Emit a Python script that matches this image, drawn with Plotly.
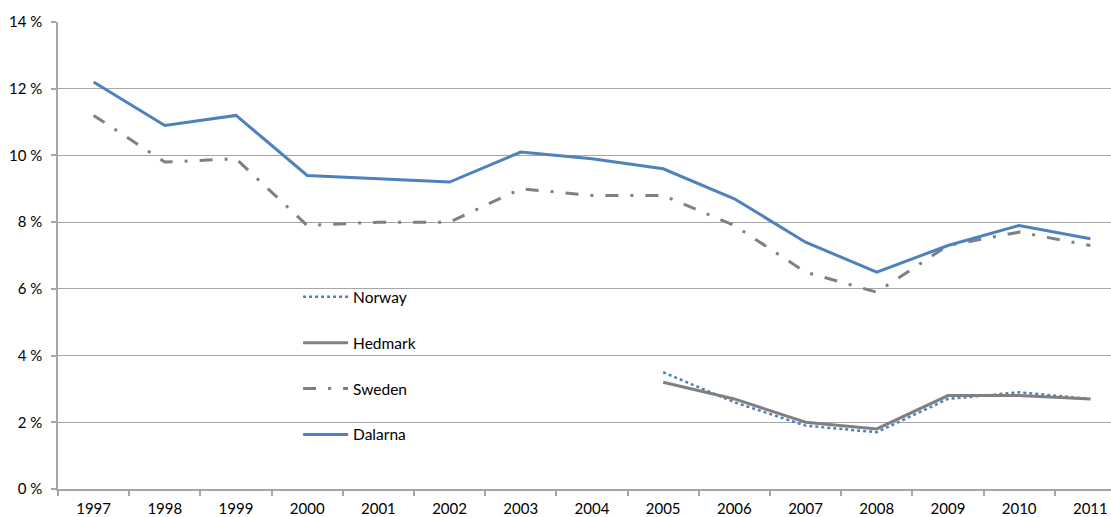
import plotly.graph_objects as go

years = ["1997", "1998", "1999", "2000", "2001", "2002", "2003", "2004",
         "2005", "2006", "2007", "2008", "2009", "2010", "2011"]
dalarna = [12.2, 10.9, 11.2, 9.4, 9.3, 9.2, 10.1, 9.9, 9.6, 8.7, 7.4, 6.5, 7.3, 7.9, 7.5]
sweden = [11.2, 9.8, 9.9, 7.9, 8.0, 8.0, 9.0, 8.8, 8.8, 7.9, 6.5, 5.9, 7.3, 7.7, 7.3]
norway_years = ["2005", "2006", "2007", "2008", "2009", "2010", "2011"]
norway = [3.5, 2.6, 1.9, 1.7, 2.7, 2.9, 2.7]
hedmark = [3.2, 2.7, 2.0, 1.8, 2.8, 2.8, 2.7]

BLUE = "#4F81BD"
GRAY = "#808080"

fig = go.Figure()
fig.add_trace(go.Scatter(x=norway_years, y=norway, name="Norway", mode="lines",
                         legendgroup="a",
                         line=dict(color=BLUE, width=2.5, dash="dot")))
fig.add_trace(go.Scatter(x=norway_years, y=hedmark, name="Hedmark", mode="lines",
                         legendgroup="b",
                         line=dict(color=GRAY, width=3)))
fig.add_trace(go.Scatter(x=years, y=sweden, name="Sweden", mode="lines",
                         legendgroup="c",
                         line=dict(color=GRAY, width=3, dash="13px,12px,3px,12px")))
fig.add_trace(go.Scatter(x=years, y=dalarna, name="Dalarna", mode="lines",
                         legendgroup="d",
                         line=dict(color=BLUE, width=3)))

fig.update_layout(
    width=1111, height=517,
    margin=dict(l=58, r=0, t=22, b=28),
    paper_bgcolor="white", plot_bgcolor="white",
    font=dict(family="Lato, Open Sans, sans-serif", size=15, color="black"),
    showlegend=True,
    legend=dict(x=0.228, y=0.447, xanchor="left", yanchor="top",
                traceorder="grouped", tracegroupgap=22.7, itemwidth=45,
                bgcolor="rgba(0,0,0,0)", font=dict(size=15.5)),
    xaxis=dict(type="category", categoryorder="array", categoryarray=years,
               range=[-0.5, 14.29], showgrid=False, showline=True,
               linecolor="#A6A6A6", linewidth=1.5, ticks="outside",
               tickson="boundaries", ticklen=5, tickcolor="#A6A6A6",
               tickwidth=1.5, zeroline=False, ticklabelstandoff=5),
    yaxis=dict(range=[0, 14], dtick=2, ticksuffix=" %", showgrid=True,
               gridcolor="#A6A6A6", gridwidth=1.2, showline=True,
               linecolor="#A6A6A6", linewidth=1.5, ticks="outside",
               ticklen=5, tickcolor="#A6A6A6", tickwidth=1.5, zeroline=False,
               ticklabelstandoff=6),
)

fig.write_html("out.html")
